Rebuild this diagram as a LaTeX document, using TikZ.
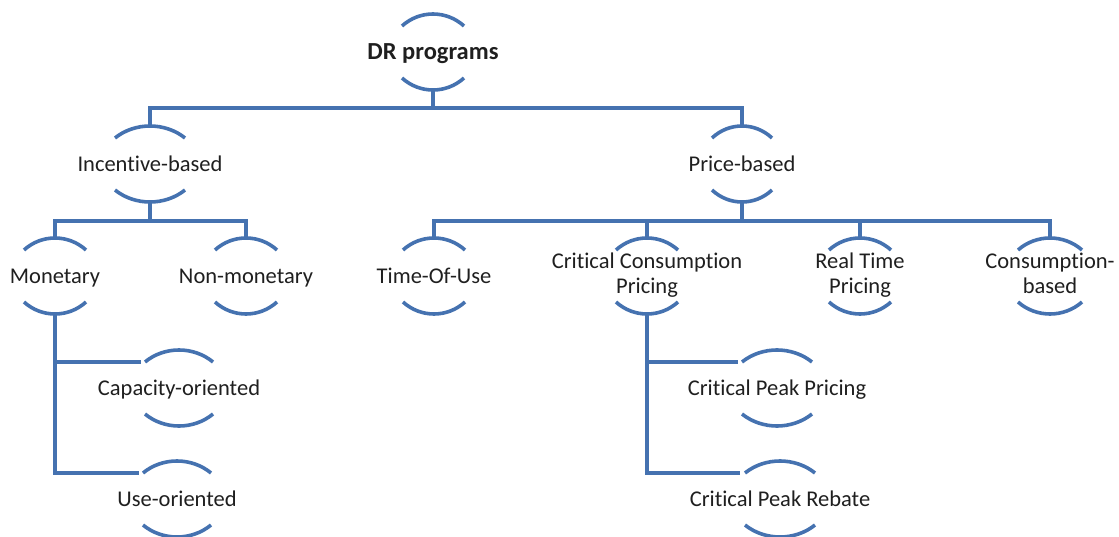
\documentclass[tikz,border=0pt]{standalone}
\usepackage{fontspec}
\setmainfont{Carlito}[Ligatures=CommonOff]
\usetikzlibrary{calc}
\definecolor{lnblue}{RGB}{69,114,176}
\newcommand\brk[2]{%
  \draw[ln] ($(#1.center)+(-#2,-26)$) .. controls ($(#1.center)+(-0.43*#2,-42)$) and ($(#1.center)+(0.43*#2,-42)$) .. ($(#1.center)+(#2,-26)$);
  \draw[ln] ($(#1.center)+(-#2,26)$) .. controls ($(#1.center)+(-0.43*#2,42)$) and ($(#1.center)+(0.43*#2,42)$) .. ($(#1.center)+(#2,26)$);}
\begin{document}
\begin{tikzpicture}[x=1pt,y=-1pt,
  ln/.style={draw=lnblue,line width=3.6pt,line cap=butt,line join=miter},
  lbl/.style={inner sep=0pt,font=\fontsize{22.5}{25}\selectfont,text=black!88},
  one/.style={lbl,text height=14.4pt,text depth=0pt},
  two/.style={lbl}]
\useasboundingbox (0,0) rectangle (1119,537);
% nodes
\node[one,font=\fontsize{24.5}{25}\selectfont\bfseries,text height=15.6pt] (dr) at (433,52) {DR programs};
\node[one] (inc) at (150,164) {Incentive-based};
\node[one] (pri) at (742,164) {Price-based};
\node[one] (mon) at (55,276) {Monetary};
\node[one] (non) at (246,276) {Non-monetary};
\node[one] (tou) at (434,276) {Time-Of-Use};
\node[two] (ccp) at (647,276) {\begin{tabular}{@{}c@{}}Critical Consumption\\Pricing\end{tabular}};
\node[two] (rtp) at (860,276) {\begin{tabular}{@{}c@{}}Real Time\\Pricing\end{tabular}};
\node[two] (cb) at (1050,276) {\begin{tabular}{@{}c@{}}Consumption-\\based\end{tabular}};
\node[one] (cap) at (179,388) {Capacity-oriented};
\node[one] (use) at (177,499) {Use-oriented};
\node[one] (cpp) at (777,388) {Critical Peak Pricing};
\node[one] (cpr) at (780,499) {Critical Peak Rebate};
% arcs
\brk{dr}{31}
\brk{inc}{35}
\brk{pri}{30}
\brk{mon}{31}
\brk{non}{31}
\brk{tou}{31}
\brk{ccp}{31}
\brk{rtp}{31}
\brk{cb}{32}
\brk{cap}{34}
\brk{use}{34}
\brk{cpp}{35}
\brk{cpr}{35}
% connectors level 1
\draw[ln] ($(dr.center)+(0,38)$) -- ($(dr.center)+(0,56)$);
\draw[ln] ($(inc.center)+(0,-38)$) |- ($(dr.center)+(0,56)$) -| ($(pri.center)+(0,-38)$);
% incentive children
\draw[ln] ($(inc.center)+(0,38)$) -- ($(inc.center)+(0,57)$);
\draw[ln] ($(mon.center)+(0,-38)$) |- ($(inc.center)+(0,57)$) -| ($(non.center)+(0,-38)$);
% price children
\draw[ln] ($(pri.center)+(0,38)$) -- ($(pri.center)+(0,57)$);
\draw[ln] ($(tou.center)+(0,-38)$) |- ($(pri.center)+(0,57)$) -| ($(cb.center)+(0,-38)$);
\draw[ln] ($(ccp.center)+(0,-38)$) -- ($(pri.center)!(ccp.center)!($(pri.center)+(1,0)$)+(0,57)$);
\draw[ln] ($(rtp.center)+(0,-38)$) -- ($(pri.center)!(rtp.center)!($(pri.center)+(1,0)$)+(0,57)$);
% monetary side branches
\draw[ln] ($(mon.center)+(0,38)$) |- ($(use.center)+(-38,-26)$);
\draw[ln] ($(mon.center)!(cap.center)!($(mon.center)+(0,1)$)+(0,-26)$) -- ($(cap.center)+(-38,-26)$);
% ccp side branches
\draw[ln] ($(ccp.center)+(0,38)$) |- ($(cpr.center)+(-40,-26)$);
\draw[ln] ($(ccp.center)!(cpp.center)!($(ccp.center)+(0,1)$)+(0,-26)$) -- ($(cpp.center)+(-39,-26)$);
\end{tikzpicture}
\end{document}
